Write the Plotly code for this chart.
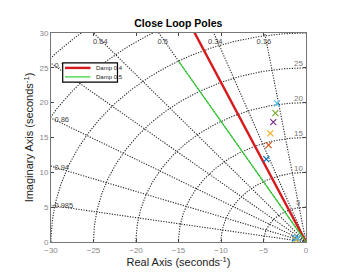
import numpy as np
import plotly.graph_objects as go

# ---- data ----
grid_zeta = [0.16, 0.34, 0.5, 0.64, 0.76, 0.86, 0.94, 0.985]
grid_zeta_labels = ["0.16", "0.34", "0.5", "0.64", "0.76", "0.86", "0.94", "0.985"]
grid_wn = [5, 10, 15, 20, 25, 30, 35, 40]
wn_labels = ["5", "10", "15", "20", "25", "30"]
damp_lines = [0.4, 0.5]
damp_names = ["Damp 0.4", "Damp 0.5"]
damp_colors = ["#D7191C", "#2BD12B"]
damp_widths = [2.4, 1.2]
damp_len = [35, 30]
pole_re = [-4.67, -4.4, -4.2, -3.85, -3.6, -3.4, -1.3, -1.15, -1.0]
pole_im = [11.9, 13.9, 15.6, 17.2, 18.5, 19.9, 0.5, 0.3, 0.6]
pole_colors = ["#0072BD", "#D95319", "#EDB120", "#7E2F8E", "#77AC30", "#4DBEEE",
               "#0072BD", "#EDB120", "#4DBEEE"]
x_ticks = [-30, -25, -20, -15, -10, -5, 0]
y_ticks = [0, 5, 10, 15, 20, 25, 30]

fig = go.Figure()
gridc = "#262626"
dotted = "1.2px,1.4px"

# damping grid lines
for z in grid_zeta:
    r = np.array([0, 50])
    fig.add_trace(go.Scatter(x=-r * z, y=r * np.sqrt(1 - z * z), mode="lines",
                             line=dict(color=gridc, width=1.1, dash=dotted),
                             showlegend=False, hoverinfo="skip"))
# frequency circles
th = np.linspace(np.pi / 2, np.pi, 150)
for w in grid_wn:
    fig.add_trace(go.Scatter(x=w * np.cos(th), y=w * np.sin(th), mode="lines",
                             line=dict(color=gridc, width=1.1, dash=dotted),
                             showlegend=False, hoverinfo="skip"))

# grid labels as text traces (drawn under the legend box)
zx, zy, zt, zp = [], [], [], []
for z, lab in zip(grid_zeta, grid_zeta_labels):
    s = np.sqrt(1 - z * z) / z
    if z < 0.7:
        yy = 28.7
        zx.append(-yy / s - 0.3); zy.append(yy); zp.append("middle center")
    else:
        xx = -29.6
        zx.append(xx); zy.append(-xx * s - 0.1); zp.append("middle right")
    zt.append(lab)
fig.add_trace(go.Scatter(x=zx, y=zy, text=zt, mode="text", textposition=zp,
                         textfont=dict(size=7.5, color="#444444"), showlegend=False,
                         hoverinfo="skip", cliponaxis=False))

# damping design lines
for z, nm, L, c, wd in zip(damp_lines, damp_names, damp_len, damp_colors, damp_widths):
    r = np.array([0, L])
    fig.add_trace(go.Scatter(x=-r * z, y=r * np.sqrt(1 - z * z), mode="lines", name=nm,
                             line=dict(color=c, width=wd), showlegend=False))

# poles
fig.add_trace(go.Scatter(x=pole_re, y=pole_im, mode="markers", showlegend=False,
                         marker=dict(symbol="x-thin", size=6,
                                     line=dict(width=1.2, color=pole_colors))))

ann = []
for w, lab in zip(grid_wn, wn_labels):
    ann.append(dict(x=-0.9, y=w + 0.6, xref="x", yref="y", text=lab, showarrow=False,
                    xanchor="center", yanchor="middle", font=dict(color="#777777", size=8)))

# manual compact legend (paper coords)
pw, ph = 255.0, 209.6
def px2paper(px, py):
    return (px - 51) / pw, (242.4 - py) / ph
x0, y0 = px2paper(62.7, 62.7)
x1, y1 = px2paper(117.5, 82.0)
shapes = [dict(type="rect", xref="paper", yref="paper", x0=x0, y0=y1, x1=x1, y1=y0,
               fillcolor="white", line=dict(color="black", width=1.2), layer="above")]
for i, (nm, c, wd) in enumerate(zip(damp_names, damp_colors, damp_widths)):
    py = 67.8 + i * 9.0
    lx0, ly = px2paper(65, py)
    lx1, _ = px2paper(90.5, py)
    shapes.append(dict(type="line", xref="paper", yref="paper", x0=lx0, x1=lx1, y0=ly, y1=ly,
                       line=dict(color=c, width=wd), layer="above"))
    tx, _ = px2paper(93.5, py)
    ann.append(dict(x=tx, y=ly, xref="paper", yref="paper", text=nm, showarrow=False,
                    xanchor="left", yanchor="middle", font=dict(size=6, color="#222")))

fig.update_layout(
    width=341, height=273,
    margin=dict(l=51, r=35, t=33, b=31),
    paper_bgcolor="white", plot_bgcolor="white",
    font=dict(family="Liberation Sans, Arial, sans-serif"),
    title=dict(text="<b>Close Loop Poles</b>", x=0.523, xanchor="center", y=0.915, yanchor="middle",
               font=dict(size=10.5, color="black")),
    annotations=ann,
    shapes=shapes,
    showlegend=False,
    xaxis=dict(range=[-30, 0], tickvals=x_ticks, ticks="inside", ticklen=3, automargin=False,
               showline=True, linecolor="#777", mirror="ticks", showgrid=False, zeroline=False,
               tickfont=dict(size=8, color="#888"),
               title=dict(text="Real Axis (seconds<sup>-1</sup>)", font=dict(size=11, color="#222"),
                          standoff=3)),
    yaxis=dict(range=[0, 30], tickvals=y_ticks, ticks="inside", ticklen=3, automargin=False,
               showline=True, linecolor="#777", mirror="ticks", showgrid=False, zeroline=False,
               tickfont=dict(size=8, color="#888"),
               title=dict(text="Imaginary Axis (seconds<sup>-1</sup>)", font=dict(size=11, color="#222"),
                          standoff=3)),
)

fig.write_html("out.html", config={"displayModeBar": False},
               post_script="document.body.style.margin='0';document.body.style.overflow='hidden';")
